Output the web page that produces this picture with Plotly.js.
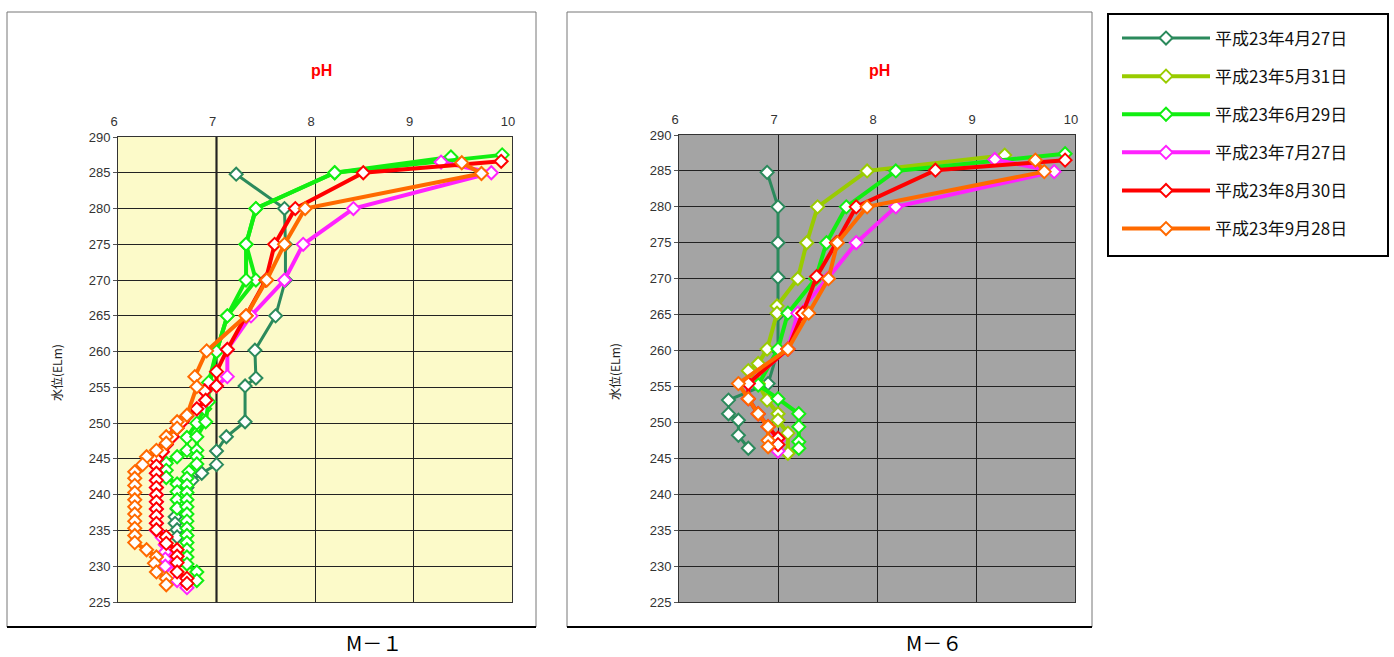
<!DOCTYPE html>
<html><head><meta charset="utf-8">
<script src="https://cdn.plot.ly/plotly-3.0.1.min.js"></script>
<style>html,body{margin:0;padding:0;background:#fff}#chart{width:1394px;height:657px}</style>
</head><body><div id="chart"></div>
<script>
// ---- labels ----
const seriesNames = ["平成23年4月27日","平成23年5月31日","平成23年6月29日","平成23年7月27日","平成23年8月30日","平成23年9月28日"];
const panelNames = ["M－１","M－６"];
const axisTitle = "pH";
const yTitle = "水位(ELm)";
const neutralPH = 7;

// ---- M-1 (elevation / pH) ----
const m1_0427_el = [284.8,280,275,270,265,260.2,256.3,255.2,250.2,248.1,246.1,244.2,243,242,241,240,239,238,236.9,236,235.1,234.1];
const m1_0427_ph = [7.2,7.69,7.7,7.7,7.6,7.39,7.4,7.29,7.29,7.1,7.0,7.0,6.85,6.75,6.7,6.65,6.62,6.6,6.58,6.58,6.6,6.6];
const m1_0531_el = [287.2,285,280,275,270,265,260,255,252,250,248,246.2,245.3,244.4,243.4,242.4,241.5,240.4,239.3,238.1];
const m1_0531_ph = [9.38,8.2,7.4,7.3,7.4,7.11,7.0,6.92,6.88,6.8,6.7,6.7,6.6,6.49,6.49,6.49,6.6,6.6,6.6,6.6];
const m1_0629_el = [287.5,285,280,275,270,265,260,255.7,253,250.2,248.1,246.2,245.3,244.3,243.2,242.3,241.3,240.3,239.3,238.3,237.3,236.3,235.3,234.3,233.3,232.3,231.3,230.3,229.2,228];
const m1_0629_ph = [9.9,8.2,7.4,7.3,7.3,7.11,7.0,6.92,6.92,6.89,6.8,6.8,6.8,6.8,6.72,6.7,6.7,6.7,6.7,6.7,6.7,6.7,6.7,6.7,6.7,6.7,6.7,6.7,6.8,6.8];
const m1_0727_el = [286.5,285,280,275,270,265,260.3,256.5,255.2,254.5,253.2,252,250.2,249.3,248.1,247,246,245,244,243,242,241,240,239,238,237,236,235,234,233,232,231,230,229,228,227];
const m1_0727_ph = [9.28,9.79,8.39,7.88,7.69,7.35,7.11,7.11,7.0,6.88,6.89,6.8,6.65,6.6,6.55,6.49,6.45,6.39,6.39,6.39,6.39,6.39,6.39,6.39,6.39,6.39,6.39,6.39,6.45,6.48,6.48,6.48,6.48,6.55,6.6,6.7];
const m1_0830_el = [286.6,285,280,275,270,265,260.3,257.2,255.2,254.5,253.2,252,251,250.2,249.3,248.1,247,246,245,244,243,242,241,240,239,238,237,236,235.1,234.1,233.2,232.3,231.4,230.5,229.2,228.3,227.6];
const m1_0830_ph = [9.89,8.49,7.8,7.59,7.5,7.3,7.11,7.0,7.0,6.88,6.89,6.8,6.7,6.65,6.6,6.55,6.49,6.45,6.39,6.39,6.39,6.39,6.39,6.39,6.39,6.39,6.39,6.39,6.39,6.49,6.49,6.6,6.6,6.6,6.6,6.7,6.7];
const m1_0928_el = [286.4,284.9,280,275,270,265,260.1,256.5,255.1,251.1,250.2,249.3,248.1,247.2,246.2,245.3,244.2,243.2,242.3,241.3,240.3,239.3,238.3,237.3,236.3,235.3,234.3,233.3,232.3,231.3,230.4,229.2,228.3,227.4];
const m1_0928_ph = [9.49,9.69,7.9,7.69,7.51,7.3,6.9,6.78,6.8,6.7,6.6,6.6,6.49,6.49,6.39,6.29,6.25,6.17,6.17,6.17,6.17,6.17,6.17,6.17,6.17,6.17,6.17,6.17,6.29,6.39,6.37,6.39,6.49,6.49];

// ---- M-6 (elevation / pH) ----
const m6_0427_el = [284.8,280,275,270.2,265,260,255.4,253.1,251.2,250.3,248.2,246.4];
const m6_0427_ph = [6.89,7.0,7.0,7.0,7.0,7.0,6.9,6.5,6.5,6.6,6.6,6.7];
const m6_0531_el = [287.2,285,280,275,270,266.2,265.2,260.2,258.2,257.2,255.4,253.1,251.2,250.3,248.5,245.7];
const m6_0531_ph = [9.29,7.9,7.4,7.29,7.2,6.99,6.99,6.89,6.8,6.7,6.8,6.89,7.0,7.0,7.1,7.1];
const m6_0629_el = [287.4,285,280,275,270,265.2,260.2,255.2,253.3,251.2,249.4,247.3,246.4];
const m6_0629_ph = [9.9,8.19,7.69,7.49,7.38,7.1,7.0,6.8,7.0,7.21,7.21,7.21,7.21];
const m6_0727_el = [286.6,284.9,280,275,270,265.2,260.2,255.4,253.3,251.2,249.4,247.5,246];
const m6_0727_ph = [9.19,9.79,8.19,7.79,7.5,7.2,7.1,6.7,6.7,6.8,6.9,7.0,7.0];
const m6_0830_el = [286.5,285.1,280,275,270.3,265.2,260.2,255.4,253.3,251.2,249.4,247.8,246.9];
const m6_0830_ph = [9.9,8.59,7.79,7.59,7.39,7.25,7.1,6.7,6.7,6.8,6.9,7.0,7.0];
const m6_0928_el = [286.5,284.9,280,275,270,265.2,260.2,255.4,253.3,251.2,249.4,247.5,246.6];
const m6_0928_ph = [9.6,9.69,7.9,7.6,7.51,7.31,7.1,6.6,6.7,6.8,6.9,6.9,6.9];

// ---- styling ----
const colorsM6 = ["#2B8A5C","#99CC00","#11EE11","#FF22FF","#FF0000","#FF6A00"];
const colorsM1 = ["#2B8A5C","#11EE11","#11EE11","#FF22FF","#FF0000","#FF6A00"];
const widths = [3,4,4,4,4,4];

const W = 1394, H = 657;
const px = x => x / W;
const py = y => 1 - y / H;

const m1 = [[m1_0427_ph,m1_0427_el],[m1_0531_ph,m1_0531_el],[m1_0629_ph,m1_0629_el],[m1_0727_ph,m1_0727_el],[m1_0830_ph,m1_0830_el],[m1_0928_ph,m1_0928_el]];
const m6 = [[m6_0427_ph,m6_0427_el],[m6_0531_ph,m6_0531_el],[m6_0629_ph,m6_0629_el],[m6_0727_ph,m6_0727_el],[m6_0830_ph,m6_0830_el],[m6_0928_ph,m6_0928_el]];

const traces = [];
function mk(d, i, colors, xa, ya, show) {
  return {
    x: d[0], y: d[1], xaxis: xa, yaxis: ya, type: 'scatter', mode: 'lines+markers',
    name: seriesNames[i], legendgroup: 'g' + i, showlegend: show,
    line: {color: colors[i], width: widths[i]},
    marker: {symbol: 'diamond', size: 10, color: '#ffffff', line: {color: colors[i], width: 2}},
    hoverinfo: 'x+y+name'
  };
}
m1.forEach((d, i) => { if (d[0].length) traces.push(mk(d, i, colorsM1, 'x', 'y', false)); });
m6.forEach((d, i) => traces.push(mk(d, i, colorsM6, 'x2', 'y2', true)));

const tickFont = {family: 'Liberation Sans, Arial, sans-serif', size: 13, color: '#333'};
function xax(dom, anchor) {
  return {domain: dom, anchor: anchor, side: 'top', range: [6, 10], dtick: 1, tick0: 6,
    showgrid: true, gridcolor: '#222', gridwidth: 1, showline: true, linecolor: '#333', linewidth: 1, mirror: true,
    ticks: 'outside', ticklen: 5, tickcolor: 'rgba(0,0,0,0)', ticklabelshift: -4,
    tickfont: tickFont, zeroline: false, fixedrange: true};
}
function yax(dom, anchor) {
  return {domain: dom, anchor: anchor, range: [225, 290], dtick: 5, tick0: 225,
    showgrid: true, gridcolor: '#222', gridwidth: 1, showline: true, linecolor: '#333', linewidth: 1, mirror: true,
    ticks: 'outside', ticklen: 4, tickcolor: '#555', tickfont: tickFont, zeroline: false, fixedrange: true};
}

const paperNote = (x, y, text, font, angle) => ({xref: 'paper', yref: 'paper', x: px(x), y: py(y),
  xanchor: 'center', yanchor: 'middle', text: text, showarrow: false, font: font, textangle: angle || 0});
const titleFont = {family: 'Liberation Sans, Arial, sans-serif', size: 16, color: '#FF0000'};
const yTitleFont = {family: 'Noto Sans CJK JP, sans-serif', size: 12, color: '#222'};
const panelFont = {family: 'Noto Sans CJK JP, sans-serif', size: 20, color: '#000'};

const layout = {
  width: W, height: H, margin: {l: 0, r: 0, t: 0, b: 0},
  paper_bgcolor: '#ffffff', plot_bgcolor: '#ffffff',
  xaxis: xax([px(118), px(512)], 'y'),
  yaxis: yax([py(602), py(137)], 'x'),
  xaxis2: xax([px(679), px(1075)], 'y2'),
  yaxis2: yax([py(602), py(135)], 'x2'),
  showlegend: true,
  legend: {x: px(1117), y: py(20.5), xanchor: 'left', yanchor: 'top',
    borderwidth: 0, bgcolor: 'rgba(0,0,0,0)',
    font: {family: 'Noto Sans CJK JP, sans-serif', size: 17, color: '#111'},
    itemwidth: 88, tracegroupgap: 13, traceorder: 'grouped', itemclick: false, itemdoubleclick: false},
  shapes: [
    // outer chart frames
    {type: 'rect', xref: 'paper', yref: 'paper', x0: px(7), x1: px(536), y0: py(627), y1: py(12), line: {color: '#777', width: 1}, layer: 'below'},
    {type: 'line', xref: 'paper', yref: 'paper', x0: px(7), x1: px(536), y0: py(627), y1: py(627), line: {color: '#000', width: 2}},
    {type: 'rect', xref: 'paper', yref: 'paper', x0: px(567), x1: px(1092), y0: py(627), y1: py(12), line: {color: '#777', width: 1}, layer: 'below'},
    {type: 'line', xref: 'paper', yref: 'paper', x0: px(567), x1: px(1092), y0: py(627), y1: py(627), line: {color: '#000', width: 2}},
    // legend frame
    {type: 'rect', xref: 'paper', yref: 'paper', x0: px(1108), x1: px(1388), y0: py(256), y1: py(14), line: {color: '#000', width: 2}, fillcolor: '#fff', layer: 'below'},
    // plot backgrounds
    {type: 'rect', xref: 'x domain', yref: 'y domain', x0: 0, x1: 1, y0: 0, y1: 1, fillcolor: '#FCFAC9', line: {width: 0}, layer: 'below'},
    {type: 'rect', xref: 'x2 domain', yref: 'y2 domain', x0: 0, x1: 1, y0: 0, y1: 1, fillcolor: '#A4A4A4', line: {width: 0}, layer: 'below'},
    // bold pH 7 line in M-1
    {type: 'line', xref: 'x', yref: 'y domain', x0: neutralPH, x1: neutralPH, y0: 0, y1: 1, line: {color: '#000', width: 2}, layer: 'below'}
  ],
  annotations: [
    paperNote(321, 70, '<b>' + axisTitle + '</b>', titleFont),
    paperNote(880, 70, '<b>' + axisTitle + '</b>', titleFont),
    paperNote(56, 372, yTitle, yTitleFont, -90),
    paperNote(614, 372, yTitle, yTitleFont, -90),
    paperNote(374, 642, panelNames[0], panelFont),
    paperNote(934, 642, panelNames[1], panelFont)
  ]
};

Plotly.newPlot('chart', traces, layout, {displayModeBar: false});
</script>
</body></html>
